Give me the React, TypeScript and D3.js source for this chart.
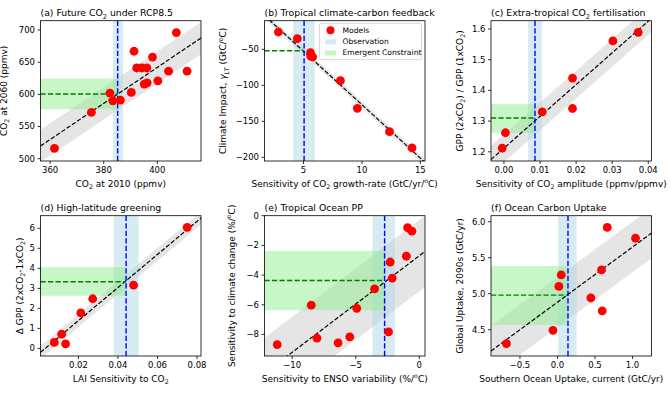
import React from 'react';
import * as d3 from 'd3';

// ---------- data ----------
// (a) Future CO2 under RCP8.5
const aX = [361.6, 375.4, 382.3, 383.4, 386.2, 390.3, 391.3, 392.3, 394.2, 396.1, 395.1, 396.2, 398.2, 400.2, 404.2, 407.1, 411.1];
const aY = [516, 572, 602, 590, 591, 603, 667, 641, 641, 641, 616, 618, 658, 621, 636, 696, 636];
const aXDomain = [356.4, 416.3];
const aYDomain = [496.4, 714.5];
const aXTicks = [360, 380, 400];
const aYTicks = [500, 550, 600, 650, 700];
const aFit = [2.8, -478.1];
const aBand = [25];
const aObs = [385.2, 383.5, 387.2];
const aCon = [600.5, 576.8, 624.4];

// (b) Tropical climate-carbon feedback
const bX = [2.85, 4.47, 5.6, 5.62, 5.78, 8.16, 9.61, 12.36, 14.29];
const bY = [-25.9, -35.2, -54.6, -59.3, -60.5, -93.5, -131.9, -164.4, -187];
const bXDomain = [1.66, 15.4];
const bYDomain = [-205.1, -10.2];
const bXTicks = [5, 10, 15];
const bYTicks = [-200, -150, -100, -50];
const bFit = [-14.84, 21.56];
const bBand = [4.5];
const bObs = [5.05, 4.13, 5.95];
const bCon = [-52, -35.7, -66.2];

// (c) Extra-tropical CO2 fertilisation
const cX = [-0.0005, 0.0004, 0.0106, 0.019, 0.019, 0.0302, 0.0372];
const cY = [1.212, 1.262, 1.33, 1.44, 1.341, 1.561, 1.589];
const cXDomain = [-0.0036, 0.0409];
const cYDomain = [1.17, 1.627];
const cXTicks = [0, 0.01, 0.02, 0.03, 0.04];
const cYTicks = [1.2, 1.3, 1.4, 1.5, 1.6];
const cFit = [10.34, 1.212];
const cBand = [0.045];
const cObs = [0.0086, 0.0067, 0.0105];
const cCon = [1.31, 1.262, 1.355];

// (d) High-latitude greening
const dX = [0.0078, 0.0115, 0.0135, 0.0212, 0.0272, 0.0479, 0.075];
const dY = [0.3, 0.71, 0.23, 1.77, 2.48, 3.16, 6.05];
const dXDomain = [0.0008, 0.082];
const dYDomain = [-0.38, 6.63];
const dXTicks = [0.02, 0.04, 0.06, 0.08];
const dYTicks = [0, 1, 2, 3, 4, 5, 6];
const dFit = [82.7, -0.266];
const dBand = [0.32];
const dObs = [0.0441, 0.0379, 0.0504];
const dCon = [3.33, 2.63, 4.06];

// (e) Tropical Ocean PP
const eX = [-11.18, -8.5, -8.05, -6.39, -5.47, -4.92, -3.52, -2.42, -2.29, -2.13, -1.02, -0.92, -0.58];
const eY = [-8.68, -6.03, -8.25, -8.56, -8.16, -6.24, -4.93, -7.82, -3.12, -4.2, -2.73, -0.81, -1.04];
const eXDomain = [-12.18, 0.45];
const eYDomain = [-9.45, 0];
const eXTicks = [-10, -5, 0];
const eYTicks = [-8, -6, -4, -2, 0];
const eFit = [0.65, -2.7];
const eBand = [2.4];
const eObs = [-2.73, -3.68, -1.92];
const eCon = [-4.36, -6.37, -2.37];

// (f) Ocean Carbon Uptake
const fX = [-0.68, -0.06, 0.019, 0.05, 0.445, 0.587, 0.596, 0.663, 1.04];
const fY = [4.305, 4.49, 5.1, 5.26, 4.94, 5.33, 4.76, 5.92, 5.77];
const fXDomain = [-0.886, 1.253];
const fYDomain = [4.134, 6.083];
const fXTicks = [-0.5, 0, 0.5, 1.0];
const fYTicks = [4.5, 5.0, 5.5, 6.0];
const fFit = [0.766, 4.882];
const fBand = [0.35];
const fObs = [0.14, 0.01, 0.255];
const fCon = [4.98, 4.565, 5.384];

const legendLabels = ['Models', 'Observation', 'Emergent Constraint'];

// ---------- rich text helpers ----------
type Part = { t: string; k?: 'sub' | 'sup'; it?: boolean };
const P = (t: string): Part => ({ t });
const Sub = (t: string, it = false): Part => ({ t, k: 'sub', it });
const Sup = (t: string): Part => ({ t, k: 'sup' });
const It = (t: string): Part => ({ t, it: true });

function rich(parts: Part[], fs: number) {
  let shift = 0;
  return parts.map((p, i) => {
    let target = 0;
    let size = fs;
    if (p.k === 'sub') { target = fs * 0.28; size = fs * 0.7; }
    if (p.k === 'sup') { target = -fs * 0.38; size = fs * 0.7; }
    const dy = target - shift;
    shift = target;
    return (
      <tspan key={i} dy={dy} fontSize={size} fontStyle={p.it ? 'italic' : 'normal'}>{p.t}</tspan>
    );
  });
}

const FONT = 'DejaVu Sans, sans-serif';
const FW = 160.5;
const FH = 140.3;
const TICK_FS = 8.5;
const LAB_FS = 9;
const TITLE_FS = 9.3;

const minus = (s: string) => s.replace(/-/g, '\u2212');

type PanelCfg = {
  key: string; left: number; top: number;
  title: Part[]; xLabel: Part[]; yLabel: Part[];
  xDom: number[]; yDom: number[]; xTicks: number[]; yTicks: number[];
  xFmt: (v: number) => string; yFmt: (v: number) => string;
  xs: number[]; ys: number[]; fit: number[]; band: number[]; obs: number[]; con: number[];
  yLabOff: number; legend?: boolean;
};

function Panel({ c }: { c: PanelCfg }) {
  const x = d3.scaleLinear().domain(c.xDom).range([c.left, c.left + FW]);
  const y = d3.scaleLinear().domain(c.yDom).range([c.top + FH, c.top]);
  const [x0, x1] = c.xDom;
  const f = (v: number) => c.fit[0] * v + c.fit[1];
  const w = c.band[0];
  const bandPts: [number, number][] = [
    [x0, f(x0) - w], [x1, f(x1) - w], [x1, f(x1) + w], [x0, f(x0) + w],
  ];
  const line = d3.line<[number, number]>().x(d => x(d[0])).y(d => y(d[1]));
  const bandPath = line(bandPts) + 'Z';
  const fitPath = line([[x0, f(x0)], [x1, f(x1)]]);
  const clipId = 'clip-' + c.key;
  const bottom = c.top + FH;
  const legend = c.legend;
  const lgW = 102, lgH = 36.5;
  const lgX = c.left + FW - 3.5 - lgW;
  const lgY = c.top + 2.5;
  return (
    <g fontFamily={FONT}>
      <defs>
        <clipPath id={clipId}>
          <rect x={c.left} y={c.top} width={FW} height={FH} />
        </clipPath>
      </defs>
      <g clipPath={`url(#${clipId})`}>
        <path d={bandPath} fill="#d3d3d3" fillOpacity={0.6} />
        <rect x={x(c.obs[1])} y={c.top} width={x(c.obs[2]) - x(c.obs[1])} height={FH} fill="#add8e6" fillOpacity={0.5} />
        <rect x={c.left} y={y(c.con[2])} width={x(c.obs[0]) - c.left} height={y(c.con[1]) - y(c.con[2])} fill="#90ee90" fillOpacity={0.5} />
        <path d={fitPath || ''} stroke="#000" strokeWidth={1.2} strokeDasharray="4.4,1.9" fill="none" />
        <line x1={c.left} x2={x(c.obs[0])} y1={y(c.con[0])} y2={y(c.con[0])} stroke="#008000" strokeWidth={1.4} strokeDasharray="5.2,2.3" />
        <line x1={x(c.obs[0])} x2={x(c.obs[0])} y1={c.top} y2={bottom} stroke="#0000ff" strokeWidth={1.4} strokeDasharray="5.2,2.3" />
        {c.xs.map((v, i) => (
          <circle key={i} cx={x(v)} cy={y(c.ys[i])} r={4.4} fill="#ff0000" />
        ))}
      </g>
      <rect x={c.left} y={c.top} width={FW} height={FH} fill="none" stroke="#000" strokeWidth={0.8} />
      {c.xTicks.map((t, i) => (
        <g key={'xt' + i}>
          <line x1={x(t)} x2={x(t)} y1={bottom} y2={bottom + 3} stroke="#000" strokeWidth={0.8} />
          <text x={x(t)} y={bottom + 11.8} fontSize={TICK_FS} textAnchor="middle" fill="#000">{minus(c.xFmt(t))}</text>
        </g>
      ))}
      {c.yTicks.map((t, i) => (
        <g key={'yt' + i}>
          <line x1={c.left - 3} x2={c.left} y1={y(t)} y2={y(t)} stroke="#000" strokeWidth={0.8} />
          <text x={c.left - 5.5} y={y(t)} dy="0.35em" fontSize={TICK_FS} textAnchor="end" fill="#000">{minus(c.yFmt(t))}</text>
        </g>
      ))}
      <text x={c.left + FW / 2} y={bottom + 25.8} fontSize={LAB_FS} textAnchor="middle" fill="#000">{rich(c.xLabel, LAB_FS)}</text>
      <text transform={`translate(${c.left - c.yLabOff},${c.top + FH / 2}) rotate(-90)`} dy="0.35em" fontSize={LAB_FS} textAnchor="middle" fill="#000">{rich(c.yLabel, LAB_FS)}</text>
      <text x={c.left} y={c.top - 4.5} fontSize={TITLE_FS} fill="#000">{rich(c.title, TITLE_FS)}</text>
      {legend && (
        <g>
          <rect x={lgX} y={lgY} width={lgW} height={lgH} rx={2} fill="#fff" fillOpacity={0.8} stroke="#cccccc" strokeWidth={0.8} />
          <circle cx={lgX + 11} cy={lgY + 7} r={4} fill="#ff0000" />
          <rect x={lgX + 5.5} y={lgY + 16.3} width={11} height={5} fill="#add8e6" fillOpacity={0.5} />
          <rect x={lgX + 5.5} y={lgY + 27.3} width={11} height={5} fill="#90ee90" fillOpacity={0.5} />
          {legendLabels.map((l, i) => (
            <text key={l} x={lgX + 23} y={lgY + 7 + i * 11.3} dy="0.35em" fontSize={7.6} fill="#000">{l}</text>
          ))}
        </g>
      )}
    </g>
  );
}

const fmt = (s: string) => d3.format(s);

const panels: PanelCfg[] = [
  {
    key: 'a', left: 40.5, top: 20.7,
    title: [P('(a) Future CO'), Sub('2'), P(' under RCP8.5')],
    xLabel: [P('CO'), Sub('2'), P(' at 2010 (ppmv)')],
    yLabel: [P('CO'), Sub('2'), P(' at 2060 (ppmv)')],
    xDom: aXDomain, yDom: aYDomain, xTicks: aXTicks, yTicks: aYTicks,
    xFmt: fmt('d'), yFmt: fmt('d'),
    xs: aX, ys: aY, fit: aFit, band: aBand, obs: aObs, con: aCon, yLabOff: 34,
  },
  {
    key: 'b', left: 264.5, top: 20.7,
    title: [P('(b) Tropical climate-carbon feedback')],
    xLabel: [P('Sensitivity of CO'), Sub('2'), P(' growth-rate (GtC/yr/'), Sup('o'), P('C)')],
    yLabel: [P('Climate Impact, '), It('γ'), Sub('LT', true), P(' (GtC/'), Sup('o'), P('C)')],
    xDom: bXDomain, yDom: bYDomain, xTicks: bXTicks, yTicks: bYTicks,
    xFmt: fmt('d'), yFmt: fmt('d'),
    xs: bX, ys: bY, fit: bFit, band: bBand, obs: bObs, con: bCon, yLabOff: 38.5, legend: true,
  },
  {
    key: 'c', left: 491, top: 20.7,
    title: [P('(c) Extra-tropical CO'), Sub('2'), P(' fertilisation')],
    xLabel: [P('Sensitivity of CO'), Sub('2'), P(' amplitude (ppmv/ppmv)')],
    yLabel: [P('GPP (2xCO'), Sub('2'), P(') / GPP (1xCO'), Sub('2'), P(')')],
    xDom: cXDomain, yDom: cYDomain, xTicks: cXTicks, yTicks: cYTicks,
    xFmt: fmt('.2f'), yFmt: fmt('.1f'),
    xs: cX, ys: cY, fit: cFit, band: cBand, obs: cObs, con: cCon, yLabOff: 28.3,
  },
  {
    key: 'd', left: 40.5, top: 215.7,
    title: [P('(d) High-latitude greening')],
    xLabel: [P('LAI Sensitivity to CO'), Sub('2')],
    yLabel: [P('Δ GPP (2xCO'), Sub('2'), P('-1xCO'), Sub('2'), P(')')],
    xDom: dXDomain, yDom: dYDomain, xTicks: dXTicks, yTicks: dYTicks,
    xFmt: fmt('.2f'), yFmt: fmt('d'),
    xs: dX, ys: dY, fit: dFit, band: dBand, obs: dObs, con: dCon, yLabOff: 18,
  },
  {
    key: 'e', left: 264.5, top: 215.7,
    title: [P('(e) Tropical Ocean PP')],
    xLabel: [P('Sensitivity to ENSO variability (%/'), Sup('o'), P('C)')],
    yLabel: [P('Sensitivity to climate change (%/'), Sup('o'), P('C)')],
    xDom: eXDomain, yDom: eYDomain, xTicks: eXTicks, yTicks: eYTicks,
    xFmt: fmt('d'), yFmt: fmt('d'),
    xs: eX, ys: eY, fit: eFit, band: eBand, obs: eObs, con: eCon, yLabOff: 30,
  },
  {
    key: 'f', left: 491, top: 215.7,
    title: [P('(f) Ocean Carbon Uptake')],
    xLabel: [P('Southern Ocean Uptake, current (GtC/yr)')],
    yLabel: [P('Global Uptake, 2090s (GtC/yr)')],
    xDom: fXDomain, yDom: fYDomain, xTicks: fXTicks, yTicks: fYTicks,
    xFmt: fmt('.1f'), yFmt: fmt('.1f'),
    xs: fX, ys: fY, fit: fFit, band: fBand, obs: fObs, con: fCon, yLabOff: 27.7,
  },
];

export default function App() {
  return (
    <svg width={670} height={395} viewBox="0 0 670 395" style={{ position: 'absolute', left: 0, top: 0, background: '#fff' }}>
      <rect x={0} y={0} width={670} height={395} fill="#fff" />
      {panels.map(c => <Panel key={c.key} c={c} />)}
    </svg>
  );
}
